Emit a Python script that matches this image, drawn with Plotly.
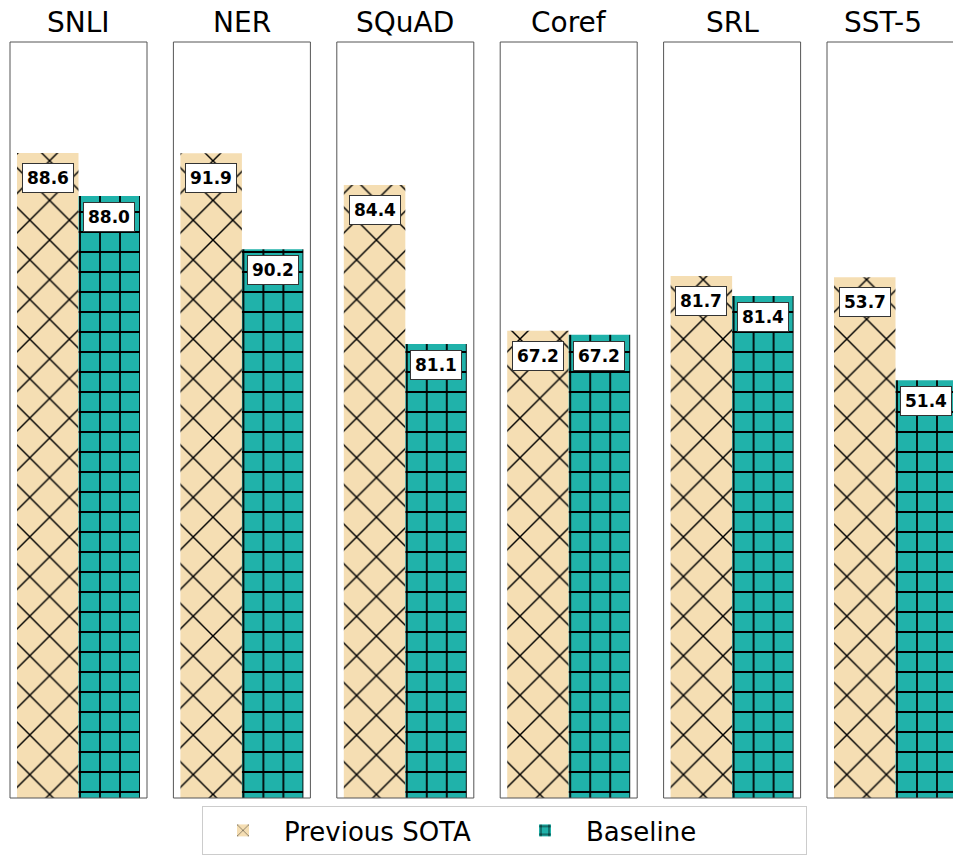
import plotly.graph_objects as go

# ---- data ----
tasks = ["SNLI", "NER", "SQuAD", "Coref", "SRL", "SST-5"]
previous_sota = [88.6, 91.9, 84.4, 67.24, 81.7, 53.7]
baseline = [88.0, 90.2, 81.1, 67.19, 81.4, 51.4]
series_names = ["Previous SOTA", "Baseline"]
# per-panel value-axis limits (each panel has its own scale)
y_limits = [(79.60, 90.15), (80.48, 93.87), (71.68, 87.37),
            (61.40, 70.85), (73.87, 85.21), (42.07, 58.95)]

# ---- styling / layout ----
W, H = 953, 855
colors = ["#F5DEB3", "#20B2AA"]
patterns = [dict(shape="x", size=28, solidity=0.1, fgcolor="#000000", fgopacity=1, bgcolor=colors[0]),
            dict(shape="+", size=20, solidity=0.17, fgcolor="#000000", fgopacity=1, bgcolor=colors[1])]
panel_left0, panel_step, panel_w = 10, 163.4, 137
plot_top, plot_bottom = 42, 798
px_per_unit = 61.5
x_lo = -0.614
label_shift = [-25, -21]

fig = go.Figure()
layout_axes = {}
font_family = "DejaVu Sans"

for i, task in enumerate(tasks):
    n = i + 1
    xa = "x" if n == 1 else f"x{n}"
    ya = "y" if n == 1 else f"y{n}"
    left = panel_left0 + panel_step * i
    right = min(left + panel_w, W)
    wpx = right - left
    vals = [previous_sota[i], baseline[i]]
    for k in range(2):
        fig.add_trace(go.Bar(
            x=[k], y=[vals[k]], width=1, name=series_names[k],
            marker=dict(color=colors[k], line=dict(width=0), pattern=patterns[k]),
            xaxis=xa, yaxis=ya, legendgroup=series_names[k], showlegend=(i == 0),
            hoverinfo="skip",
        ))
        fig.add_annotation(
            x=k, y=vals[k], xref=xa, yref=ya, yshift=label_shift[k],
            text=f"<b>{vals[k]:.1f}</b>", showarrow=False,
            font=dict(family=font_family, size=17, color="black"),
            bgcolor="white", bordercolor="#333333", borderwidth=1, borderpad=4,
        )
    xkey = "xaxis" if n == 1 else f"xaxis{n}"
    ykey = "yaxis" if n == 1 else f"yaxis{n}"
    layout_axes[xkey] = dict(domain=[left / W, right / W], anchor=ya,
                             range=[x_lo, x_lo + wpx / px_per_unit],
                             showticklabels=False, showgrid=False, zeroline=False,
                             ticks="", showline=False, fixedrange=True)
    layout_axes[ykey] = dict(domain=[1 - plot_bottom / H, 1 - plot_top / H], anchor=xa,
                             range=list(y_limits[i]),
                             showticklabels=False, showgrid=False, zeroline=False,
                             ticks="", showline=False, fixedrange=True)
    # panel frame
    fig.add_shape(type="rect", xref=f"{xa} domain", yref=f"{ya} domain",
                  x0=0, x1=panel_w / wpx, y0=0, y1=1,
                  line=dict(color="#555555", width=1), fillcolor="rgba(0,0,0,0)",
                  layer="above")
    # panel title
    title_cx = left + panel_w / 2 if right < W else 883
    fig.add_annotation(x=title_cx / W, y=1 - 22 / H, xref="paper", yref="paper",
                       text=task, showarrow=False, xanchor="center", yanchor="middle",
                       font=dict(family=font_family, size=28, color="black"))

fig.update_layout(
    width=W, height=H, autosize=False,
    margin=dict(l=0, r=0, t=0, b=0),
    paper_bgcolor="white", plot_bgcolor="white",
    barmode="overlay",
    showlegend=True,
    legend=dict(orientation="h", x=202 / W, xanchor="left",
                y=1 - 806 / H, yanchor="top",
                font=dict(family=font_family, size=26, color="black"),
                bordercolor="#cccccc", borderwidth=1, bgcolor="white",
                itemwidth=72, entrywidth=215, itemsizing="constant"),
    **layout_axes,
)

fig.write_html("out.html", config={"displayModeBar": False},
               post_script="document.body.style.margin='0';document.body.style.overflow='hidden';")
